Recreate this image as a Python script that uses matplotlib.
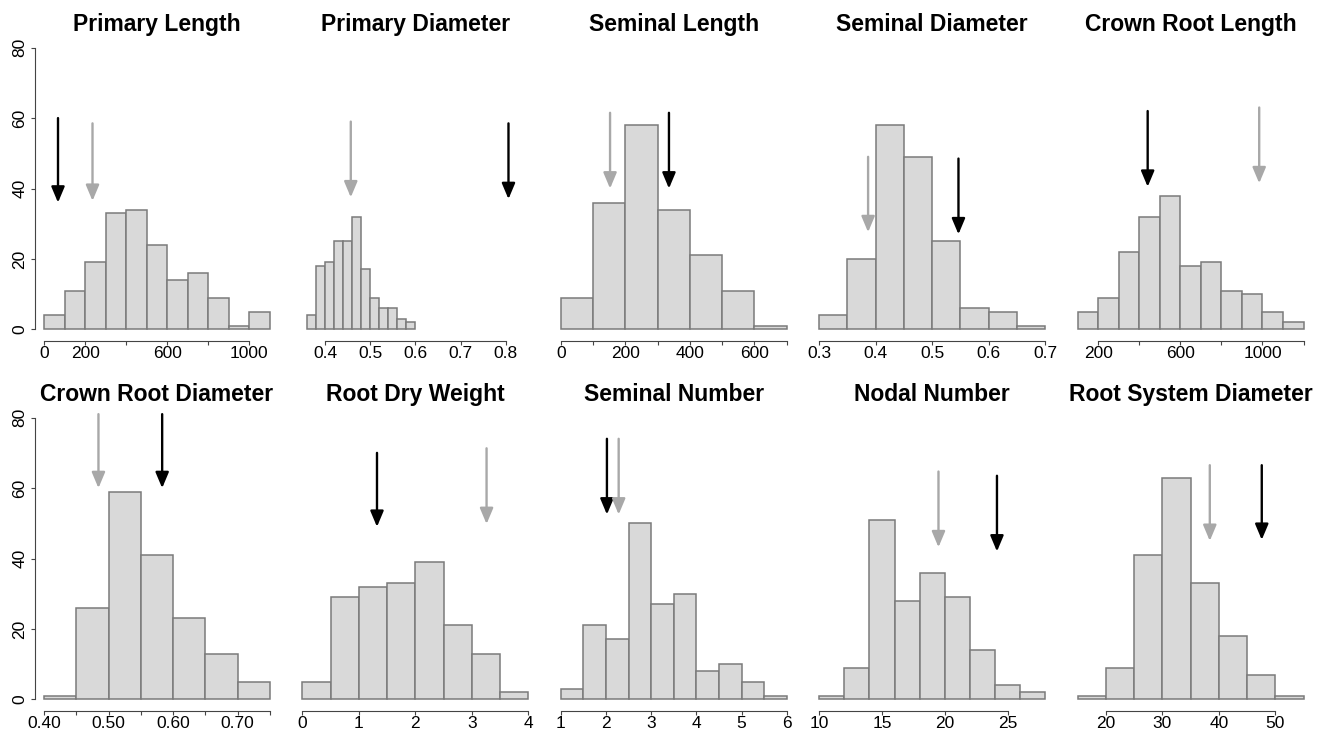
import numpy as np
import matplotlib
matplotlib.use("Agg")
import matplotlib.pyplot as plt

plt.rcParams["font.family"] = ["Liberation Sans", "DejaVu Sans"]

# histogram bin edges and counts for each root trait
primary_length_edges = [0, 100, 200, 300, 400, 500, 600, 700, 800, 900, 1000, 1100]
primary_length_counts = [4, 11, 19, 33, 34, 24, 14, 16, 9, 1, 5]

primary_diameter_edges = [0.36, 0.38, 0.40, 0.42, 0.44, 0.46, 0.48, 0.50, 0.52, 0.54, 0.56, 0.58, 0.60]
primary_diameter_counts = [4, 18, 19, 25, 25, 32, 17, 9, 6, 6, 3, 2]

seminal_length_edges = [0, 100, 200, 300, 400, 500, 600, 700]
seminal_length_counts = [9, 36, 58, 34, 21, 11, 1]

seminal_diameter_edges = [0.30, 0.35, 0.40, 0.45, 0.50, 0.55, 0.60, 0.65, 0.70]
seminal_diameter_counts = [4, 20, 58, 49, 25, 6, 5, 1]

crown_length_edges = [100, 200, 300, 400, 500, 600, 700, 800, 900, 1000, 1100, 1200]
crown_length_counts = [5, 9, 22, 32, 38, 18, 19, 11, 10, 5, 2]

crown_diameter_edges = [0.40, 0.45, 0.50, 0.55, 0.60, 0.65, 0.70, 0.75]
crown_diameter_counts = [1, 26, 59, 41, 23, 13, 5]

dry_weight_edges = [0, 0.5, 1.0, 1.5, 2.0, 2.5, 3.0, 3.5, 4.0]
dry_weight_counts = [5, 29, 32, 33, 39, 21, 13, 2]

seminal_number_edges = [1, 1.5, 2, 2.5, 3, 3.5, 4, 4.5, 5, 5.5, 6]
seminal_number_counts = [3, 21, 17, 50, 27, 30, 8, 10, 5, 1]

nodal_number_edges = [10, 12, 14, 16, 18, 20, 22, 24, 26, 28]
nodal_number_counts = [1, 9, 51, 28, 36, 29, 14, 4, 2]

system_diameter_edges = [15, 20, 25, 30, 35, 40, 45, 50, 55]
system_diameter_counts = [1, 9, 41, 63, 33, 18, 7, 1]

titles = ["Primary Length", "Primary Diameter", "Seminal Length", "Seminal Diameter",
          "Crown Root Length", "Crown Root Diameter", "Root Dry Weight", "Seminal Number",
          "Nodal Number", "Root System Diameter"]

# arrow positions: (x, start height, tip height)
black_arrows = [(68, 60, 36), (0.806, 58.5, 37), (335, 61.5, 40), (0.5465, 48.5, 27),
                (441, 62, 40.5), (0.583, 81, 60), (1.32, 70, 49), (2.02, 74, 52.5),
                (24.16, 63.5, 42), (47.6, 66.5, 45.3)]
gray_arrows = [(236, 58.5, 36.5), (0.457, 59, 37.5), (152.5, 61.5, 40), (0.3865, 49, 27.6),
               (984, 63, 41.5), (0.4843, 81, 60), (3.26, 71.3, 49.8), (2.28, 74, 52.5),
               (19.5, 64.7, 43.2), (38.4, 66.5, 45)]

edges = [primary_length_edges, primary_diameter_edges, seminal_length_edges,
         seminal_diameter_edges, crown_length_edges, crown_diameter_edges,
         dry_weight_edges, seminal_number_edges, nodal_number_edges, system_diameter_edges]
counts = [primary_length_counts, primary_diameter_counts, seminal_length_counts,
          seminal_diameter_counts, crown_length_counts, crown_diameter_counts,
          dry_weight_counts, seminal_number_counts, nodal_number_counts, system_diameter_counts]

xranges = [(0, 1100), (0.35, 0.85), (0, 700), (0.3, 0.7), (100, 1200),
           (0.40, 0.75), (0, 4), (1, 6), (10, 28), (15, 55)]

# (tick positions, tick labels)
xticks = [
    ([0, 200, 400, 600, 800, 1000], ["0", "200", "", "600", "", "1000"]),
    ([0.4, 0.5, 0.6, 0.7, 0.8], ["0.4", "0.5", "0.6", "0.7", "0.8"]),
    ([0, 100, 200, 300, 400, 500, 600, 700], ["0", "", "200", "", "400", "", "600", ""]),
    ([0.3, 0.4, 0.5, 0.6, 0.7], ["0.3", "0.4", "0.5", "0.6", "0.7"]),
    ([200, 400, 600, 800, 1000, 1200], ["200", "", "600", "", "1000", ""]),
    ([0.40, 0.45, 0.50, 0.55, 0.60, 0.65, 0.70, 0.75],
     ["0.40", "", "0.50", "", "0.60", "", "0.70", ""]),
    ([0, 1, 2, 3, 4], ["0", "1", "2", "3", "4"]),
    ([1, 2, 3, 4, 5, 6], ["1", "2", "3", "4", "5", "6"]),
    ([10, 15, 20, 25], ["10", "15", "20", "25"]),
    ([20, 30, 40, 50], ["20", "30", "40", "50"]),
]

W, H = 1327, 733
fig = plt.figure(figsize=(W / 100, H / 100), dpi=100)

col_left = [35 + 258.4 * k for k in range(5)]
row_top = [36.4, 406.4]
pw, ph = 244, 304.2
axis_col = "#444444"


def pad4(lo, hi):
    r = hi - lo
    return lo - 0.04 * r, hi + 0.04 * r


for i in range(10):
    row, col = divmod(i, 5)
    left = col_left[col] / W
    bottom = 1 - (row_top[row] + ph) / H
    ax = fig.add_axes([left, bottom, pw / W, ph / H])

    e = np.array(edges[i])
    ax.bar(e[:-1], counts[i], width=np.diff(e), align="edge",
           color="#D9D9D9", edgecolor="#7A7A7A", linewidth=1.1, zorder=2)

    for (x, y0, y1), c in ((black_arrows[i], "black"), (gray_arrows[i], "#A8A8A8")):
        ax.annotate("", xy=(x, y1), xytext=(x, y0),
                    arrowprops=dict(arrowstyle="-|>,head_length=0.95,head_width=0.4",
                                    color=c, lw=1.7, shrinkA=0, shrinkB=0,
                                    mutation_scale=10), zorder=3)

    ax.set_xlim(*pad4(*xranges[i]))
    ax.set_ylim(*pad4(0, 80))

    for s in ["top", "right"]:
        ax.spines[s].set_visible(False)
    ticks, labels = xticks[i]
    ax.set_xticks(ticks)
    ax.set_xticklabels(labels)
    ax.spines["bottom"].set_bounds(ticks[0], ticks[-1])
    ax.spines["bottom"].set_color(axis_col)
    ax.spines["bottom"].set_linewidth(0.8)
    ax.tick_params(axis="x", length=3, width=0.8, color=axis_col, pad=1,
                   labelsize=12.5)

    if col == 0:
        ax.set_yticks([0, 20, 40, 60, 80])
        ax.set_yticklabels(["0", "20", "40", "60", "80"], rotation=90, va="center")
        ax.spines["left"].set_bounds(0, 80)
        ax.spines["left"].set_color(axis_col)
        ax.spines["left"].set_linewidth(0.8)
        ax.tick_params(axis="y", length=3, width=0.8, color=axis_col, pad=2.5,
                       labelsize=12.5)
    else:
        ax.spines["left"].set_visible(False)
        ax.set_yticks([])

    ax.patch.set_alpha(0)
    ax.set_title(titles[i], fontsize=16.5, fontweight="bold", pad=4)

fig.savefig("out.png", dpi=100)
